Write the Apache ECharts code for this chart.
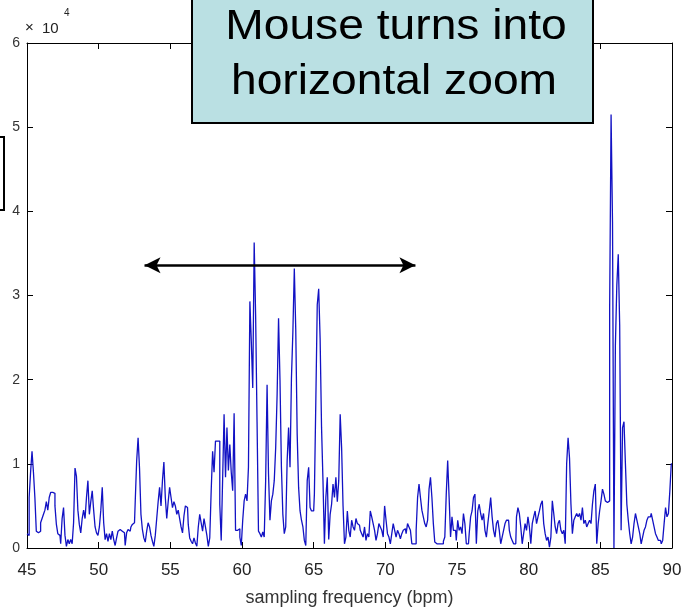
<!DOCTYPE html>
<html><head><meta charset="utf-8">
<script src="https://cdn.jsdelivr.net/npm/echarts@6/dist/echarts.min.js"></script>
<style>html,body{margin:0;padding:0;background:#fff}#c{width:687px;height:612px}</style>
</head><body><div id="c"></div>
<script>
// Spectrum sampled every 0.1 bpm from 45 to 90 bpm; values in units of 10^4
const freqStart = 45;
const freqStep = 0.1;
const power = [
 0.17,0.15,0.6,0.9,1.15,0.9,0.6,0.2,0.18,0.2,
 0.3,0.35,0.4,0.45,0.55,0.45,0.6,0.66,0.66,0.65,
 0.5,0.28,0.17,0.15,0.05,0.35,0.48,0.15,0.02,0.1,
 0.05,0.1,0.05,0.3,0.95,0.85,0.45,0.28,0.18,0.35,
 0.45,0.35,0.6,0.8,0.4,0.55,0.68,0.45,0.25,0.18,
 0.15,0.25,0.45,0.72,0.3,0.1,0.17,0.08,0.17,0.1,
 0.2,0.1,0.03,0.12,0.2,0.22,0.2,0.22,0.18,0.03,
 0.18,0.22,0.2,0.25,0.28,0.3,0.55,1.03,1.31,0.95,
 0.4,0.22,0.12,0.07,0.2,0.3,0.25,0.15,0.08,0.02,
 0.15,0.35,0.55,0.72,0.5,0.8,1.02,0.6,0.35,0.55,
 0.72,0.6,0.48,0.55,0.5,0.4,0.45,0.35,0.25,0.18,
 0.38,0.5,0.48,0.28,0.12,0.08,0.05,0.12,0.06,0.02,
 0.25,0.4,0.3,0.2,0.35,0.25,0.15,0.02,0.12,0.68,
 1.15,0.9,1.27,1.27,1.27,0.52,0.09,0.83,1.59,0.84,
 1.43,0.92,1.23,0.9,0.68,1.6,0.21,0.21,0.23,0.13,
 0.03,0.33,0.56,0.64,0.56,0.96,2.93,2.45,1.9,3.63,
 2.77,1.5,0.2,0.17,0.13,0.19,0.13,0.8,1.94,0.88,
 0.33,0.56,0.64,0.8,1.19,1.82,2.73,2.0,0.96,0.4,
 0.17,0.25,1.04,1.43,0.96,2.02,2.57,3.32,2.6,1.35,
 0.72,0.44,0.33,0.25,0.09,0.03,0.8,0.96,0.48,0.44,
 0.44,0.64,1.74,2.89,3.08,2.49,1.43,0.8,0.05,0.6,
 0.84,0.1,0.4,0.52,0.76,0.6,0.84,0.55,0.8,1.59,
 1.19,0.5,0.05,0.13,0.44,0.21,0.13,0.33,0.25,0.21,
 0.35,0.29,0.27,0.21,0.17,0.13,0.25,0.09,0.17,0.13,
 0.44,0.37,0.29,0.21,0.09,0.17,0.29,0.25,0.21,0.13,
 0.5,0.33,0.17,0.13,0.05,0.17,0.29,0.21,0.13,0.21,
 0.17,0.11,0.17,0.21,0.23,0.17,0.29,0.25,0.21,0.05,
 0.05,0.05,0.21,0.6,0.76,0.6,0.45,0.37,0.29,0.25,
 0.33,0.7,0.84,0.6,0.29,0.07,0.05,0.05,0.05,0.05,
 0.05,0.08,0.13,0.64,1.04,0.6,0.13,0.37,0.21,0.21,
 0.09,0.33,0.21,0.25,0.17,0.41,0.29,0.05,0.05,0.17,
 0.37,0.44,0.6,0.64,0.05,0.44,0.52,0.41,0.33,0.41,
 0.21,0.13,0.29,0.44,0.6,0.37,0.21,0.13,0.29,0.33,
 0.21,0.05,0.13,0.21,0.29,0.33,0.33,0.21,0.13,0.09,
 0.05,0.05,0.37,0.48,0.41,0.25,0.05,0.17,0.29,0.21,
 0.37,0.25,0.05,0.29,0.37,0.44,0.29,0.37,0.44,0.52,
 0.56,0.29,0.17,0.09,0.13,0.01,0.13,0.56,0.41,0.25,
 0.17,0.29,0.33,0.21,0.17,0.21,0.05,1.0,1.31,1.07,
 0.52,0.17,0.33,0.37,0.41,0.37,0.41,0.33,0.48,0.29,
 0.33,0.25,0.29,0.33,0.29,0.52,0.68,0.76,0.05,0.29,
 0.44,0.56,0.7,0.64,0.56,0.54,0.56,2.85,5.15,3.87,
 0.0,2.41,3.12,3.49,2.65,0.21,1.43,1.5,1.0,0.52,
 0.33,0.17,0.05,0.13,0.29,0.41,0.33,0.25,0.17,0.05,
 0.13,0.21,0.25,0.33,0.37,0.37,0.41,0.33,0.25,0.17,
 0.13,0.09,0.09,0.05,0.09,0.29,0.48,0.37,0.41,0.68,
 1.0
];
const xRange = [45, 90];
const xTickStep = 5;
const yRange = [0, 6];
const yTickStep = 1;
const xAxisTitle = 'sampling frequency (bpm)';
const yScaleTimes = '\u00d7';
const yScaleBase = '10';
const yScaleExp = '4';
const calloutLines = ['Mouse turns into', 'horizontal zoom'];
const arrowStart = [53.2, 3.36];
const arrowEnd = [72.1, 3.36];

const points = power.map((v, i) => [Math.round((freqStart + i * freqStep) * 10) / 10, v]);

const FONT = '"Liberation Sans", Arial, Helvetica, sans-serif';
const axisLine = { onZero: false, lineStyle: { color: '#000', width: 1 } };
const axisTick = { inside: true, length: 6, lineStyle: { color: '#000', width: 1 } };

const chart = echarts.init(document.getElementById('c'), null, { renderer: 'canvas' });
chart.setOption({
  animation: false,
  backgroundColor: '#fff',
  grid: { left: 27, right: 15, top: 43, bottom: 61, containLabel: false },
  xAxis: [
    { type: 'value', min: xRange[0], max: xRange[1], interval: xTickStep, position: 'bottom',
      axisLine: axisLine, axisTick: axisTick, splitLine: { show: false },
      axisLabel: { color: '#222', fontSize: 17, margin: 14, fontFamily: FONT },
      name: xAxisTitle, nameLocation: 'middle', nameGap: 41,
      nameTextStyle: { fontSize: 18, color: '#333', fontFamily: FONT } },
    { type: 'value', min: xRange[0], max: xRange[1], interval: xTickStep, position: 'top',
      axisLine: axisLine, axisTick: axisTick, splitLine: { show: false }, axisLabel: { show: false } }
  ],
  yAxis: [
    { type: 'value', min: yRange[0], max: yRange[1], interval: yTickStep, position: 'left',
      axisLine: axisLine, axisTick: axisTick, splitLine: { show: false },
      axisLabel: { color: '#333', fontSize: 14, margin: 7, fontFamily: FONT } },
    { type: 'value', min: yRange[0], max: yRange[1], interval: yTickStep, position: 'right',
      axisLine: axisLine, axisTick: axisTick, splitLine: { show: false }, axisLabel: { show: false } }
  ],
  series: [{
    type: 'line', xAxisIndex: 0, yAxisIndex: 0, data: points, step: 'middle',
    symbol: 'none', showSymbol: false, silent: true,
    lineStyle: { color: '#1212c4', width: 1.3 },
    markLine: {
      silent: true, symbol: ['arrow', 'arrow'], symbolSize: [12, 16],
      lineStyle: { color: '#000', width: 2.5, type: 'solid' },
      label: { show: false }, emphasis: { disabled: true },
      data: [[{ coord: arrowStart }, { coord: arrowEnd }]]
    }
  }],
  graphic: [
    { type: 'text', left: 25, top: 20, style: { text: yScaleTimes, font: '15px ' + FONT, fill: '#222' } },
    { type: 'text', left: 42, top: 21, style: { text: yScaleBase, font: '15px ' + FONT, fill: '#222' } },
    { type: 'text', left: 64, top: 8, style: { text: yScaleExp, font: '10px ' + FONT, fill: '#222' } },
    { type: 'rect', z: 100, shape: { x: -20, y: 137, width: 24, height: 73 },
      style: { fill: '#fff', stroke: '#000', lineWidth: 2 } },
    { type: 'rect', z: 100, shape: { x: 192, y: -4, width: 401, height: 127 },
      style: { fill: '#bae0e3', stroke: '#000', lineWidth: 2 } },
    { type: 'text', z: 101, x: 396, y: 27, scaleX: 1.1,
      style: { text: calloutLines[0], font: '42px ' + FONT, fill: '#000', align: 'center', verticalAlign: 'middle' } },
    { type: 'text', z: 101, x: 394, y: 82, scaleX: 1.1,
      style: { text: calloutLines[1], font: '42px ' + FONT, fill: '#000', align: 'center', verticalAlign: 'middle' } }
  ]
});
</script>
</body></html>
